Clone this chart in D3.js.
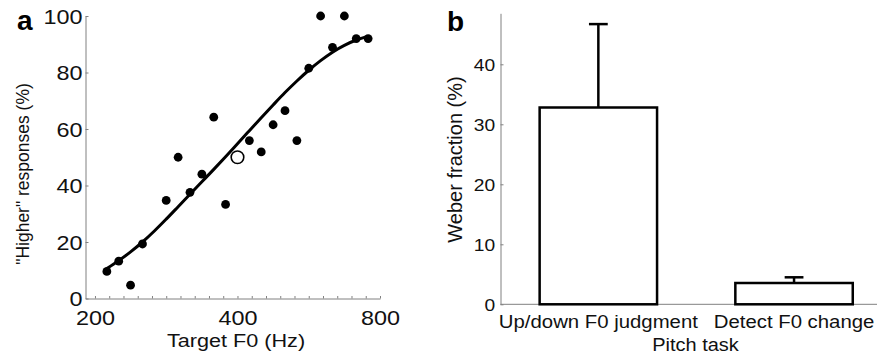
<!DOCTYPE html>
<html>
<head>
<meta charset="utf-8">
<script src="https://cdn.jsdelivr.net/npm/d3@7"></script>
<style>
  body { margin: 0; background: #fff; }
  svg { display: block; font-family: "Liberation Sans", Arial, sans-serif; }
</style>
</head>
<body>
<svg id="chart" width="877" height="359"></svg>
<script>
// Panel a: psychometric data (target F0 in Hz, % "higher" responses)
const targetF0 = [211.9, 224.5, 237.8, 252, 282.8, 299.7, 317.5, 336.4, 356.4, 377.5,
  423.8, 449, 475.7, 504, 534, 565.7, 599.3, 635, 672.7, 712.7, 755.1];
const higherPct = [9.6, 13.2, 4.7, 19.3, 34.7, 50, 37.6, 44, 64.2, 33.3,
  55.9, 51.9, 61.5, 66.5, 55.9, 81.5, 100, 88.9, 100, 92, 92];
// reference tone (open circle)
const refF0 = 400;
const refPct = 50;

// fitted curve
const fitF0 = [211.9, 224.5, 237.8, 252, 267, 282.8, 299.7, 317.5, 336.4, 356.4, 377.5,
  400, 423.8, 449, 475.7, 504, 534, 565.7, 599.3, 635, 672.7, 712.7, 755.1];
const fitPct = [10.6, 13.4, 16.5, 20, 23.9, 28.1, 32.5, 36.9, 41.3, 45.7, 50.2,
  54.8, 59.4, 64, 68.5, 72.9, 77, 80.8, 84.2, 87.2, 89.6, 91.5, 92.8];

const yTicksA = [0, 20, 40, 60, 80, 100];
const xLabelsA = [200, 400, 800];

// Panel b: Weber fractions
const tasks = ['Up/down F0 judgment', 'Detect F0 change'];
const weber = [32.8, 3.55];
const weberErr = [13.9, 0.95];
const yTicksB = [0, 10, 20, 30, 40];

const svg = d3.select('#chart');
const axisColor = '#808080';
const ink = '#111';

// ---------- panel a ----------
const xA = d3.scaleLog().domain([191, 800]).range([85.5, 380]);
const yA = d3.scaleLinear().domain([0, 100]).range([298.5, 16]);

const minorA = d3.range(0, 21).map(i => 200 * Math.pow(2, i / 10));

const gyA = svg.append('g')
  .attr('transform', 'translate(85.5,0)')
  .call(d3.axisLeft(yA).tickValues(yTicksA).tickSize(-3).tickSizeOuter(0));
gyA.select('.domain').attr('stroke', axisColor);
gyA.selectAll('line').attr('stroke', axisColor);
gyA.selectAll('text')
  .attr('x', -2.5).attr('dy', '0.36em')
  .attr('transform', 'scale(1.2,1)')
  .attr('font-size', 19.5).attr('fill', ink).attr('font-family', null);

const gxA = svg.append('g')
  .attr('transform', 'translate(0,298.5)')
  .call(d3.axisBottom(xA).tickValues(minorA).tickSize(-2.5).tickSizeOuter(0)
    .tickFormat(d => xLabelsA.includes(Math.round(d)) ? Math.round(d) : ''));
gxA.select('.domain').attr('stroke', axisColor);
gxA.selectAll('line').attr('stroke', axisColor);
gxA.selectAll('text')
  .attr('y', 27).attr('dy', 0)
  .attr('transform', 'scale(1.2,1)')
  .attr('font-size', 19.5).attr('fill', ink).attr('font-family', null);

// fitted line
const fitLine = d3.line()
  .x((d, i) => xA(fitF0[i]))
  .y(d => yA(d))
  .curve(d3.curveMonotoneX);

svg.append('path')
  .datum(fitPct)
  .attr('fill', 'none')
  .attr('stroke', '#000')
  .attr('stroke-width', 3)
  .attr('d', fitLine);

svg.append('g').selectAll('circle')
  .data(higherPct)
  .join('circle')
  .attr('cx', (d, i) => xA(targetF0[i]))
  .attr('cy', d => yA(d))
  .attr('r', 4.4)
  .attr('fill', '#000');

svg.append('circle')
  .attr('cx', xA(refF0))
  .attr('cy', yA(refPct))
  .attr('r', 6.3)
  .attr('fill', '#fff')
  .attr('stroke', '#000')
  .attr('stroke-width', 1.6);

svg.append('text')
  .attr('transform', 'translate(236,347) scale(1.17,1)')
  .attr('text-anchor', 'middle')
  .attr('font-size', 18.5).attr('fill', ink)
  .text('Target F0 (Hz)');

svg.append('text')
  .attr('transform', 'translate(28.5,174) rotate(-90)')
  .attr('text-anchor', 'middle')
  .attr('font-size', 17.5).attr('fill', ink)
  .text('"Higher" responses (%)');

svg.append('text')
  .attr('x', 17).attr('y', 30)
  .attr('font-size', 28).attr('font-weight', 'bold').attr('fill', '#000')
  .text('a');

// ---------- panel b ----------
const xB = d3.scaleLinear().domain([0.5, 2.5]).range([500.5, 891.9]);
const yB = d3.scaleLinear().domain([0, 48.5]).range([304.3, 13.3]);
const barW = 0.6;
const capW = 0.048;

const gyB = svg.append('g')
  .attr('transform', 'translate(500.5,0)')
  .call(d3.axisLeft(yB).tickValues(yTicksB).tickSize(-3).tickSizeOuter(0));
gyB.select('.domain').attr('stroke', axisColor);
gyB.selectAll('line').attr('stroke', axisColor);
gyB.selectAll('text')
  .attr('x', -4.5).attr('dy', '0.36em')
  .attr('transform', 'scale(1.2,1)')
  .attr('font-size', 16).attr('fill', ink).attr('font-family', null);

svg.append('line')
  .attr('x1', xB(0.5)).attr('x2', 877)
  .attr('y1', yB(0)).attr('y2', yB(0))
  .attr('stroke', axisColor);

// error bars (upper only), drawn before bars
const errG = svg.append('g').attr('stroke', '#000').attr('stroke-width', 2.5);
weber.forEach((v, i) => {
  const cx = xB(i + 1);
  errG.append('line')
    .attr('x1', cx).attr('x2', cx)
    .attr('y1', yB(v)).attr('y2', yB(v + weberErr[i]));
  errG.append('line')
    .attr('x1', xB(i + 1 - capW)).attr('x2', xB(i + 1 + capW))
    .attr('y1', yB(v + weberErr[i])).attr('y2', yB(v + weberErr[i]));
});

svg.append('g').selectAll('rect')
  .data(weber)
  .join('rect')
  .attr('x', (d, i) => xB(i + 1 - barW / 2))
  .attr('width', (d, i) => xB(i + 1 + barW / 2) - xB(i + 1 - barW / 2))
  .attr('y', d => yB(d))
  .attr('height', d => yB(0) - yB(d))
  .attr('fill', '#fff')
  .attr('stroke', '#000')
  .attr('stroke-width', 2.5);

svg.append('g').selectAll('text')
  .data(tasks)
  .join('text')
  .attr('transform', (d, i) => `translate(${xB(i + 1)},328) scale(1.1,1)`)
  .attr('text-anchor', 'middle')
  .attr('font-size', 18.5).attr('fill', ink)
  .text(d => d);

svg.append('text')
  .attr('transform', 'translate(695.5,350.5) scale(1.08,1)')
  .attr('text-anchor', 'middle')
  .attr('font-size', 18.5).attr('fill', ink)
  .text('Pitch task');

svg.append('text')
  .attr('transform', 'translate(461.5,159.5) rotate(-90)')
  .attr('text-anchor', 'middle')
  .attr('font-size', 20).attr('fill', ink)
  .text('Weber fraction (%)');

svg.append('text')
  .attr('x', 447).attr('y', 30.5)
  .attr('font-size', 28).attr('font-weight', 'bold').attr('fill', '#000')
  .text('b');
</script>
</body>
</html>
